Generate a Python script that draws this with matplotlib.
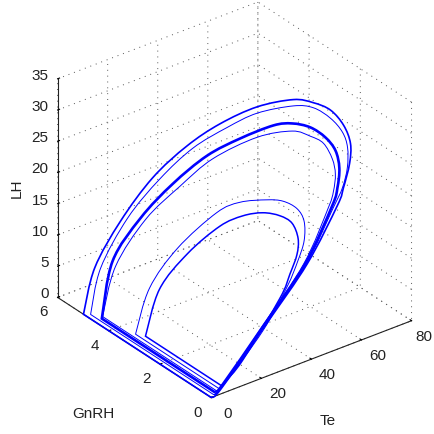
import matplotlib
matplotlib.use('Agg')
import numpy as np
import matplotlib.pyplot as plt
from matplotlib.path import Path
from matplotlib.patches import PathPatch
from mpl_toolkits.mplot3d import proj3d

plt.rcParams['font.family'] = ['Liberation Sans', 'DejaVu Sans']

# outer loop
te_a = [0, 0, 1.0, 6.2, 13.4, 22.5, 32.1, 44.4, 56.3, 62.8, 68.1, 71.8, 73.0, 71.1, 67.1, 63.7, 47.0, 26.3, 4.3, 0]
gnrh_a = [0, 4.99, 4.65, 4.15, 3.6, 3.15, 2.8, 2.55, 2.3, 2.15, 2.0, 1.85, 1.7, 1.55, 1.4, 1.3, 0.85, 0.4, 0.03, 0]
lh_a = [0, 0, 8.17, 16.2, 23.5, 28.4, 31.4, 32.9, 32.9, 31.8, 30.2, 27.6, 24.9, 22.4, 19.5, 17.5, 11.9, 6.8, 0.7, 0]

# second loop
te_b = [1.0, 1.0, 1.3, 7.0, 14.7, 23.8, 33.9, 43.9, 55.8, 62.3, 67.6, 70.8, 71.3, 69.7, 66.2, 61.0, 46.0, 25.8, 4.7, 1.0]
gnrh_b = [0, 4.81, 4.45, 3.95, 3.45, 3.05, 2.7, 2.5, 2.25, 2.1, 1.95, 1.8, 1.65, 1.5, 1.35, 1.2, 0.8, 0.4, 0.03, 0]
lh_b = [0.3, 0.3, 8.6, 17.1, 23.5, 28.1, 30.8, 32.1, 32.1, 31.2, 29.1, 26.8, 24.7, 22.1, 19.8, 17.8, 12.1, 6.8, 1.0, 0.3]

# thick middle loop
te_c = [1.5, 1.5, 2.0, 8.6, 16.8, 26.4, 36.5, 47.8, 53.8, 59.5, 64.0, 66.5, 66.5, 64.2, 60.6, 45.6, 25.4, 4.7, 1.5]
gnrh_c = [0, 4.42, 4.05, 3.6, 3.15, 2.75, 2.45, 2.25, 2.1, 1.95, 1.8, 1.65, 1.5, 1.35, 1.2, 0.8, 0.4, 0.03, 0]
lh_c = [0.6, 0.6, 10.7, 17.8, 23.2, 27.3, 29.3, 30.2, 30.0, 28.9, 27.0, 24.9, 22.5, 20.1, 18.2, 12.2, 6.8, 1.2, 0.6]

# thin loop just inside it
te_d = [2.0, 2.0, 3.2, 9.6, 18.1, 27.2, 41.3, 52.8, 58.5, 62.2, 64.2, 64.4, 62.1, 58.5, 44.7, 24.5, 5.1, 2.0]
gnrh_d = [0, 4.44, 4.05, 3.5, 3.0, 2.6, 2.25, 2.0, 1.85, 1.7, 1.55, 1.45, 1.3, 1.15, 0.75, 0.35, 0.03, 0]
lh_d = [0.8, 0.8, 9.7, 17.7, 23.0, 27.1, 29.3, 29.2, 27.9, 26.6, 24.2, 22.0, 20.0, 18.3, 12.6, 7.0, 1.3, 0.8]

# inner thin loop
te_e = [3.0, 3.0, 5.0, 11.1, 21.6, 28.3, 36.5, 42.0, 46.0, 47.3, 46.3, 42.8, 36.9, 24.1, 5.9, 3.0]
gnrh_e = [0, 3.25, 2.9, 2.4, 1.9, 1.65, 1.4, 1.3, 1.15, 1.0, 0.9, 0.8, 0.65, 0.35, 0.03, 0]
lh_e = [1.0, 1.0, 9.0, 15.8, 21.2, 22.5, 22.3, 21.5, 20.1, 18.3, 15.6, 13.2, 10.3, 6.0, 1.4, 1.0]

# inner loop
te_f = [4.0, 4.0, 5.4, 11.5, 20.3, 27.4, 33.9, 39.2, 43.0, 44.4, 42.9, 38.8, 33.5, 14.2, 5.9, 4.0]
gnrh_f = [0, 2.96, 2.55, 2.05, 1.65, 1.45, 1.3, 1.15, 1.05, 0.95, 0.85, 0.72, 0.6, 0.17, 0.03, 0]
lh_f = [1.3, 1.3, 9.7, 15.8, 19.9, 21.0, 20.9, 20.0, 18.5, 16.1, 14.0, 11.9, 9.1, 3.3, 1.6, 1.3]

te_ticks = [0, 20, 40, 60, 80]
gnrh_ticks = [0, 2, 4, 6]
lh_ticks = [0, 5, 10, 15, 20, 25, 30, 35]

fig = plt.figure(figsize=(4.34, 4.35), dpi=100)
ax = fig.add_axes([0.027, 0.025, 1.0, 1.0], projection='3d', proj_type='ortho')
ax.view_init(elev=30, azim=-127.5)
ax.set_box_aspect((1, 1, 1), zoom=0.978)

ax.set_xlim(0, 80)
ax.set_ylim(0, 6)
ax.set_zlim(0, 35)
ax.set_xticks(te_ticks)
ax.set_yticks(gnrh_ticks)
ax.set_zticks(lh_ticks)
ax.set_xticklabels([])
ax.set_yticklabels([])
ax.set_zticklabels([])

for axis in (ax.xaxis, ax.yaxis, ax.zaxis):
    axis.set_pane_color((1, 1, 1, 0))
    axis.pane.set_edgecolor('none')
    axis.line.set_color('#222222')
    axis.line.set_linewidth(0.8)
    axis._axinfo['grid'].update(color='#555555', linewidth=0.7, linestyle=(0, (1, 5)))
    axis._axinfo['tick'].update(inward_factor=0.0, outward_factor=0.12)


def draw_loop(te, gnrh, lh, lw):
    # straight run out to the corner, smooth arc through the read points
    px, py, _ = proj3d.proj_transform(np.array(te, float), np.array(gnrh, float), np.array(lh, float), ax.get_proj())
    pts = np.column_stack([px, py])
    arc = pts[1:]
    verts = [pts[0], arc[0]]
    codes = [Path.MOVETO, Path.LINETO]
    for i in range(len(arc) - 1):
        before = arc[max(i - 1, 0)]
        after = arc[min(i + 2, len(arc) - 1)]
        verts += [arc[i] + (arc[i + 1] - before) / 6, arc[i + 1] - (after - arc[i]) / 6, arc[i + 1]]
        codes += [Path.CURVE4] * 3
    patch = PathPatch(Path(verts, codes), facecolor='none', edgecolor='#0000ff', lw=lw, clip_on=False)
    patch.do_3d_projection = lambda: 0  # plain 2D patch, Axes3D asks for this anyway
    ax.add_patch(patch)


draw_loop(te_a, gnrh_a, lh_a, 1.2)
draw_loop(te_b, gnrh_b, lh_b, 0.7)
draw_loop(te_c, gnrh_c, lh_c, 1.9)
draw_loop(te_d, gnrh_d, lh_d, 0.7)
draw_loop(te_e, gnrh_e, lh_e, 0.7)
draw_loop(te_f, gnrh_f, lh_f, 1.1)


def tick_label(s, x, y, z, dx, dy, ha='center'):
    # pixel offset from the projected tick position
    px, py, _ = proj3d.proj_transform(x, y, z, ax.get_proj())
    ax.annotate(s, xy=(px, py), xytext=(dx, dy), textcoords='offset pixels',
                ha=ha, va='center', fontsize=11, color='#222222', annotation_clip=False)


for t in te_ticks:
    tick_label(str(t), t, 0, 0, 16 if t < 80 else 12, -15)
for t in gnrh_ticks:
    tick_label(str(t), 0, t, 0, -14, -14)
for t in lh_ticks:
    tick_label(str(t), 0, 6, t, -9, 4, ha='right')

fig.text(328 / 434, 1 - 421 / 435, 'Te', fontsize=11, color='#222222', ha='center', va='center')
fig.text(93 / 434, 1 - 414 / 435, 'GnRH', fontsize=11, color='#222222', ha='center', va='center')
fig.text(17 / 434, 1 - 188 / 435, 'LH', fontsize=11, color='#222222', ha='center', va='center', rotation=90)

fig.savefig('out.png', dpi=100)
